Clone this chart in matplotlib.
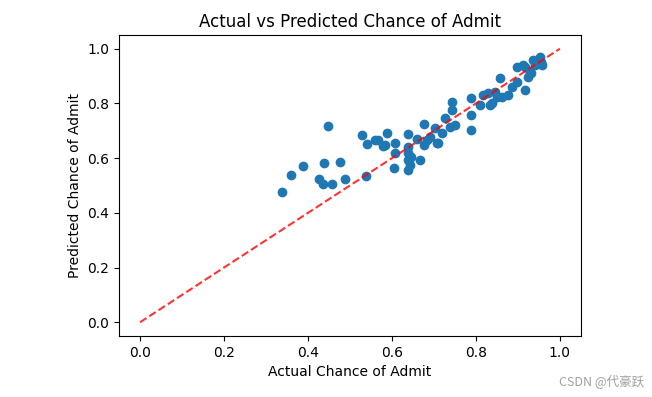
import matplotlib
matplotlib.use('Agg')
import matplotlib.pyplot as plt

# actual vs predicted values
actual = [0.338, 0.360, 0.388, 0.448, 0.438, 0.426, 0.436, 0.457, 0.476, 0.488,
          0.538, 0.529, 0.540, 0.560, 0.567, 0.579, 0.588, 0.607, 0.607, 0.605,
          0.583, 0.638, 0.638, 0.638, 0.638, 0.638, 0.643, 0.660, 0.667, 0.676,
          0.676, 0.690, 0.702, 0.707, 0.719, 0.726, 0.738, 0.743, 0.743, 0.750,
          0.683, 0.710, 0.788, 0.788, 0.788, 0.810, 0.817, 0.829, 0.833, 0.850,
          0.857, 0.862, 0.876, 0.886, 0.898, 0.898, 0.917, 0.917, 0.924, 0.929,
          0.936, 0.952, 0.957, 0.940, 0.838, 0.845, 0.912, 0.930, 0.955, 0.645]
predicted = [0.478, 0.540, 0.570, 0.717, 0.581, 0.522, 0.507, 0.507, 0.585, 0.522,
             0.533, 0.684, 0.651, 0.665, 0.665, 0.643, 0.691, 0.654, 0.618, 0.563,
             0.647, 0.688, 0.640, 0.618, 0.592, 0.555, 0.574, 0.669, 0.592, 0.724,
             0.647, 0.676, 0.710, 0.654, 0.691, 0.746, 0.713, 0.805, 0.776, 0.721,
             0.665, 0.654, 0.820, 0.757, 0.702, 0.794, 0.831, 0.838, 0.794, 0.824,
             0.893, 0.824, 0.831, 0.860, 0.879, 0.934, 0.849, 0.934, 0.897, 0.915,
             0.960, 0.971, 0.941, 0.941, 0.801, 0.842, 0.941, 0.912, 0.950, 0.605]

fig = plt.figure(figsize=(6.52, 3.97), dpi=100)
ax = fig.add_axes([0.1825, 0.1537, 0.7085, 0.7581])

ax.scatter(actual, predicted)
ax.plot([0, 1], [0, 1], 'r--', alpha=0.8)

ax.set_xlabel('Actual Chance of Admit')
ax.set_ylabel('Predicted Chance of Admit')
ax.set_title('Actual vs Predicted Chance of Admit')

# watermark
fig.text(0.988, 0.037, 'CSDN @代豪跃', ha='right', va='center', fontsize=9,
         color='#a0a0a0', family=['Noto Sans CJK SC', 'DejaVu Sans'])

fig.savefig('out.png', dpi=100)
